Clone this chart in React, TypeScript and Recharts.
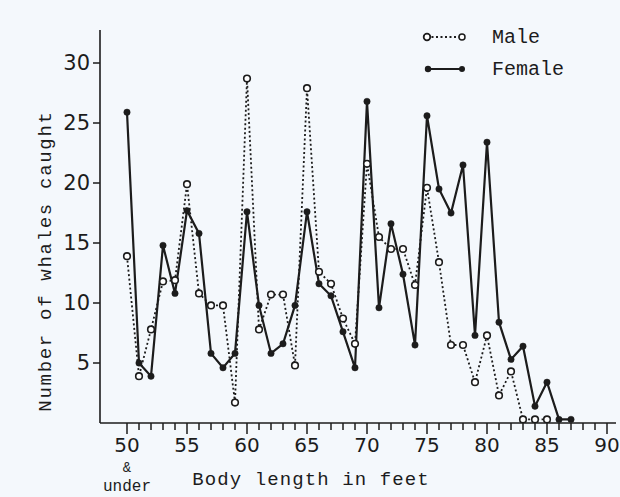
import React from 'react';
import { LineChart, Line, XAxis, YAxis, Legend, Label } from 'recharts';

const INK = '#1c1c1c';
const TYPE = '"Liberation Mono", "DejaVu Sans Mono", monospace';
const HAND = '"DejaVu Sans", sans-serif';

// body length in feet (50 = "50 & under")
const lengths = [
  50, 51, 52, 53, 54, 55, 56, 57, 58, 59,
  60, 61, 62, 63, 64, 65, 66, 67, 68, 69,
  70, 71, 72, 73, 74, 75, 76, 77, 78, 79,
  80, 81, 82, 83, 84, 85, 86, 87,
];

const maleCounts = [
  13.9, 3.9, 7.8, 11.8, 11.9, 19.9, 10.8, 9.8, 9.8, 1.7,
  28.7, 7.8, 10.7, 10.7, 4.8, 27.9, 12.6, 11.6, 8.7, 6.6,
  21.6, 15.5, 14.5, 14.5, 11.5, 19.6, 13.4, 6.5, 6.5, 3.4,
  7.3, 2.3, 4.3, 0.3, 0.3, 0.3, null, null,
];

const femaleCounts = [
  25.9, 5, 3.9, 14.8, 10.8, 17.7, 15.8, 5.8, 4.6, 5.8,
  17.6, 9.8, 5.8, 6.6, 9.8, 17.6, 11.6, 10.6, 7.6, 4.6,
  26.8, 9.6, 16.6, 12.4, 6.5, 25.6, 19.5, 17.5, 21.5, 7.3,
  23.4, 8.4, 5.3, 6.4, 1.4, 3.4, 0.3, 0.3,
];

const xTicks = Array.from({ length: 41 }, (_, i) => 50 + i);
const yTicks = [5, 10, 15, 20, 25, 30];

const data = lengths.map((len, i) => ({
  len,
  male: maleCounts[i],
  female: femaleCounts[i],
}));

const XTick = ({ x, y, payload }: any) => {
  const v = payload.value;
  const major = v % 5 === 0;
  return (
    <g>
      <line x1={x} y1={y} x2={x} y2={y + (major ? 11 : 7)} stroke={INK} strokeWidth={1.5} />
      {major && (
        <text x={x} y={y + 29} textAnchor="middle" fontFamily={HAND} fontSize={20} fill={INK}>
          {v}
        </text>
      )}
      {v === 50 && (
        <>
          <text x={x} y={y + 49} textAnchor="middle" fontFamily={TYPE} fontSize={14} fill={INK}>&amp;</text>
          <text x={x} y={y + 68} textAnchor="middle" fontFamily={TYPE} fontSize={16} fill={INK}>under</text>
        </>
      )}
    </g>
  );
};

const LegendBox = () => (
  <svg width={190} height={64}>
    <line x1={9} y1={15} x2={44} y2={15} stroke={INK} strokeWidth={1.8} strokeDasharray="2 2.5" />
    <circle cx={9} cy={15} r={3.3} fill="#fff" stroke={INK} strokeWidth={1.8} />
    <circle cx={44} cy={15} r={3} fill="#fff" stroke={INK} strokeWidth={1.5} />
    <text x={74} y={21} fontFamily={TYPE} fontSize={20} fill={INK}>Male</text>
    <line x1={10} y1={47} x2={44} y2={47} stroke={INK} strokeWidth={2} />
    <circle cx={10} cy={47} r={3.2} fill={INK} />
    <circle cx={44} cy={47} r={3} fill={INK} />
    <text x={74} y={53} fontFamily={TYPE} fontSize={20} fill={INK}>Female</text>
  </svg>
);

export default function App() {
  return (
    <div style={{ position: 'absolute', left: 0, top: 0, width: 620, height: 497, background: '#f4f8fc' }}>
      <LineChart width={620} height={497} data={data} margin={{ top: 30, right: 4, bottom: 0, left: 0 }}>
        <XAxis
          dataKey="len"
          type="number"
          domain={[47.75, 90.75]}
          ticks={xTicks}
          interval={0}
          height={74}
          tickSize={0}
          tickMargin={0}
          tick={<XTick />}
          axisLine={{ stroke: INK, strokeWidth: 1.6 }}
          tickLine={false}
        >
          <Label
            content={() => (
              <text x={311} y={485} textAnchor="middle" fontFamily={TYPE} fontSize={19} letterSpacing={1.1} fill={INK}>
                Body length in feet
              </text>
            )}
          />
        </XAxis>
        <YAxis
          type="number"
          domain={[0, 32.75]}
          ticks={yTicks}
          width={100}
          tickSize={7}
          tickMargin={3}
          tick={{ fontFamily: HAND, fontSize: 21, fill: INK }}
          axisLine={{ stroke: INK, strokeWidth: 1.6 }}
          tickLine={{ stroke: INK, strokeWidth: 1.5 }}
          allowDataOverflow
        >
          <Label
            content={() => (
              <text
                x={46}
                y={261}
                transform="rotate(-90 46 261)"
                textAnchor="middle"
                dominantBaseline="central"
                fontFamily={TYPE}
                fontSize={19}
                letterSpacing={1.7}
                fill={INK}
              >
                Number of whales caught
              </text>
            )}
          />
        </YAxis>
        <Legend
          layout="vertical"
          align="center"
          verticalAlign="middle"
          content={<LegendBox />}
          wrapperStyle={{ position: 'absolute', top: 22, left: 418, width: 190, height: 64 }}
        />
        <Line
          dataKey="male"
          name="Male"
          type="linear"
          stroke={INK}
          strokeWidth={1.8}
          strokeDasharray="2 2.5"
          dot={{ r: 3.3, fill: '#fff', stroke: INK, strokeWidth: 1.6, strokeDasharray: '' }}
          connectNulls={false}
          isAnimationActive={false}
        />
        <Line
          dataKey="female"
          name="Female"
          type="linear"
          stroke={INK}
          strokeWidth={2.2}
          dot={{ r: 3.2, fill: INK, stroke: INK, strokeWidth: 0.5 }}
          isAnimationActive={false}
        />
      </LineChart>
    </div>
  );
}
